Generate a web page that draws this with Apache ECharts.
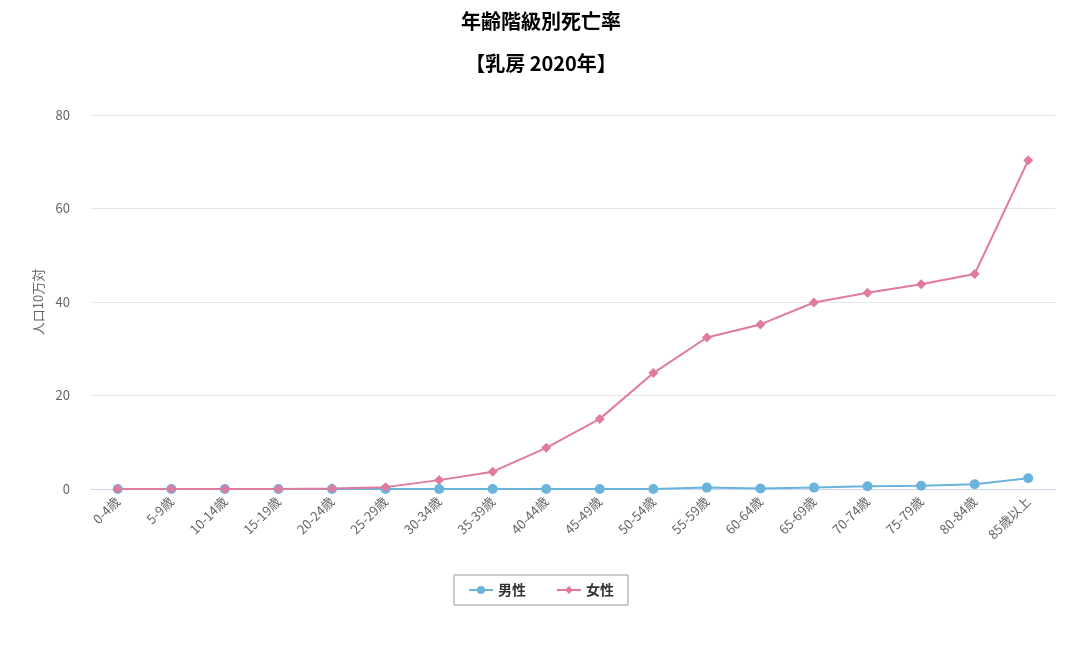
<!DOCTYPE html>
<html><head><meta charset="utf-8">
<script src="https://cdn.jsdelivr.net/npm/echarts@6/dist/echarts.min.js"></script>
<style>html,body{margin:0;padding:0;background:#fff}#c{width:1082px;height:648px}</style>
</head><body><div id="c"></div>
<script>
const categories = ['0-4歳','5-9歳','10-14歳','15-19歳','20-24歳','25-29歳','30-34歳','35-39歳','40-44歳','45-49歳','50-54歳','55-59歳','60-64歳','65-69歳','70-74歳','75-79歳','80-84歳','85歳以上'];
const male = [0,0,0,0,0,0,0,0,0,0,0,0.3,0.1,0.3,0.6,0.7,1.0,2.3];
const female = [0,0,0,0,0.1,0.4,1.9,3.7,8.8,15.0,24.8,32.4,35.2,39.9,42.0,43.8,46.0,70.3];
const yTicks = [0,20,40,60,80];
const titleLines = ['年齢階級別死亡率','【乳房 2020年】'];
const font = '"Noto Sans CJK JP","Noto Sans",sans-serif';
const chart = echarts.init(document.getElementById('c'));
chart.setOption({
  animation:false,
  textStyle:{fontFamily:font},
  title:[
    {text:titleLines[0],left:'center',top:6,textStyle:{fontSize:20,fontWeight:'bold',color:'#000',fontFamily:font}},
    {text:titleLines[1],left:'center',top:48,textStyle:{fontSize:20,fontWeight:'bold',color:'#000',fontFamily:font}}
  ],
  grid:{left:91,right:27,top:115,bottom:159},
  legend:{bottom:43,left:'center',itemGap:30,itemWidth:24,itemHeight:10,borderColor:'#999',borderWidth:1,padding:[8,14],
    textStyle:{fontSize:14,fontWeight:'bold',color:'#333',fontFamily:font},data:['男性','女性']},
  xAxis:{type:'category',data:categories,boundaryGap:true,
    axisLine:{lineStyle:{color:'#ccd6eb'}},axisTick:{show:false},
    axisLabel:{rotate:45,color:'#666',fontSize:13,interval:0,margin:10,fontFamily:font}},
  yAxis:{type:'value',min:yTicks[0],max:yTicks[yTicks.length-1],interval:20,
    name:'人口10万対',nameLocation:'middle',nameGap:46,nameRotate:90,nameTextStyle:{color:'#666',fontSize:13,fontFamily:font},
    axisLine:{show:false},axisTick:{show:false},
    axisLabel:{color:'#666',fontSize:13,margin:21},
    splitLine:{lineStyle:{color:'#e6e6e6'}}},
  series:[
    {name:'男性',type:'line',data:male,symbol:'circle',symbolSize:10,itemStyle:{color:'#6ab4dc'},lineStyle:{width:2,color:'#6ab4dc'}},
    {name:'女性',type:'line',data:female,symbol:'diamond',symbolSize:10,itemStyle:{color:'#e07a9f'},lineStyle:{width:2,color:'#e07a9f'}}
  ]
});
</script></body></html>
